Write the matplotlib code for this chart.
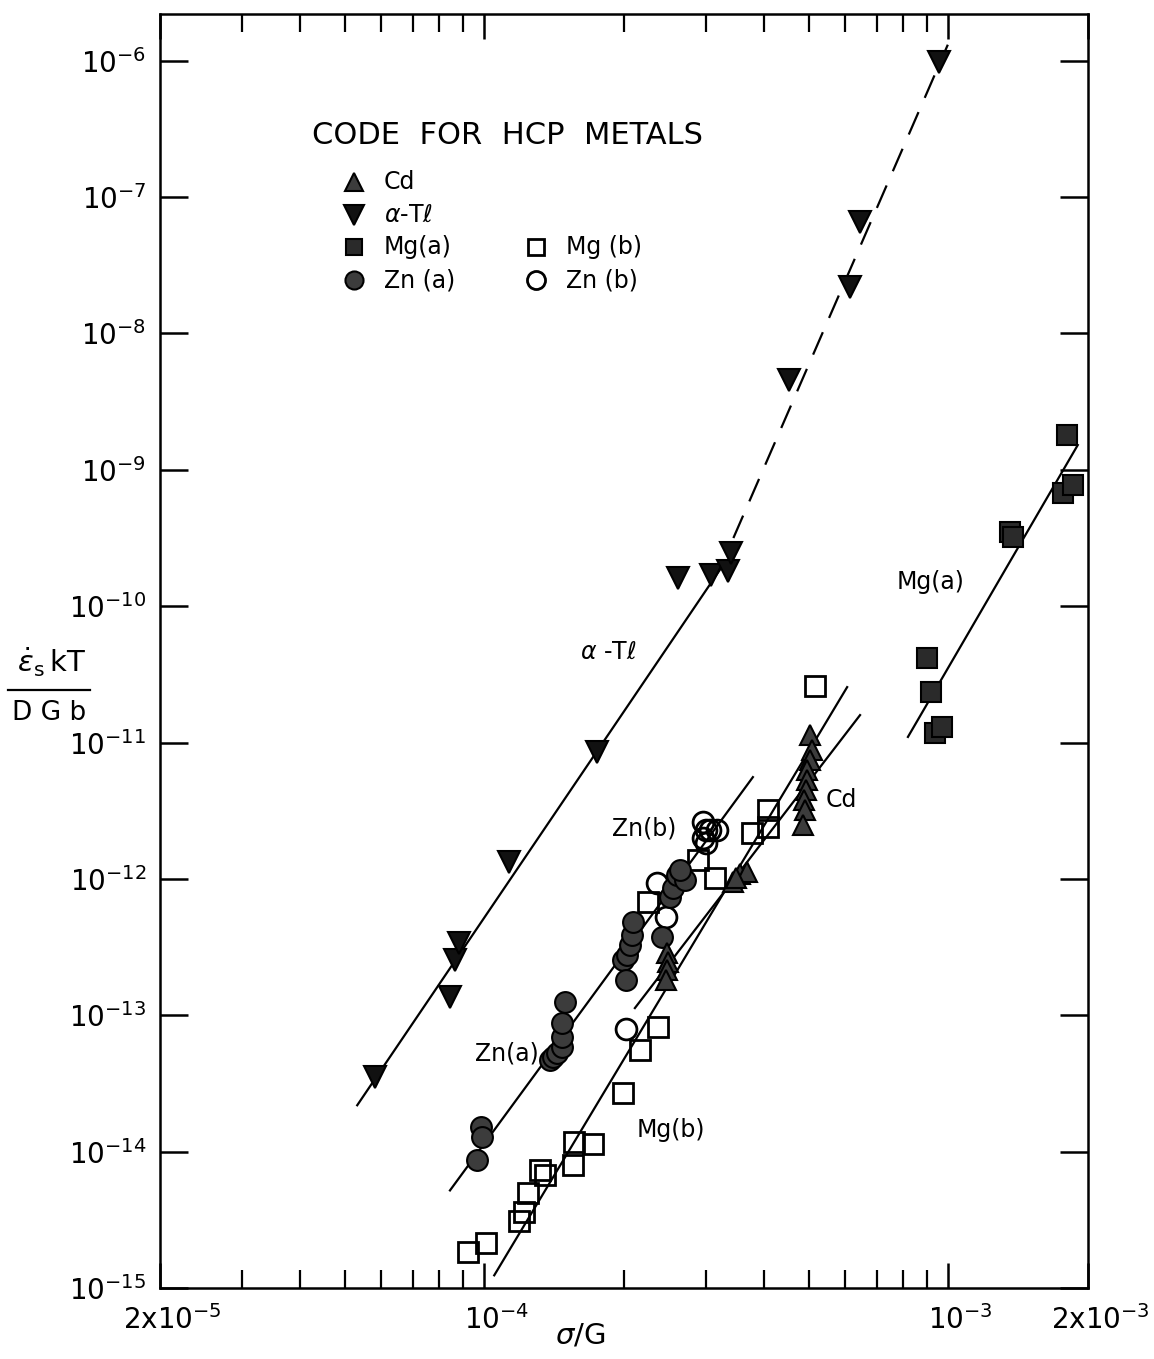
import matplotlib
matplotlib.use("Agg")
import matplotlib.pyplot as plt
from matplotlib.lines import Line2D
from matplotlib.transforms import ScaledTranslation
from matplotlib.ticker import FixedLocator, LogLocator, NullFormatter, NullLocator

plt.rcParams['font.family'] = 'DejaVu Sans'
plt.rcParams['mathtext.fontset'] = 'dejavusans'

# alpha-Tl (filled down triangles)
tl_x = [5.8e-5, 8.43e-5, 8.65e-5, 8.82e-5, 1.13e-4, 1.75e-4, 2.61e-4, 3.08e-4,
        3.35e-4, 3.4e-4, 4.54e-4, 6.14e-4, 6.45e-4, 9.55e-4]
tl_y = [3.5e-14, 1.36e-13, 2.54e-13, 3.38e-13, 1.33e-12, 8.5e-12, 1.6e-10, 1.7e-10,
        1.8e-10, 2.45e-10, 4.57e-9, 2.2e-8, 6.6e-8, 9.7e-7]

# Mg(a) (filled squares)
mga_x = [9.0e-4, 9.18e-4, 9.35e-4, 9.7e-4, 1.36e-3, 1.38e-3, 1.77e-3, 1.86e-3, 1.8e-3]
mga_y = [4.17e-11, 2.36e-11, 1.17e-11, 1.3e-11, 3.5e-10, 3.2e-10, 6.8e-10, 7.8e-10, 1.8e-9]

# Mg(b) (open squares)
mgb_x = [9.2e-5, 1.01e-4, 1.19e-4, 1.22e-4, 1.24e-4, 1.32e-4, 1.35e-4, 1.55e-4, 1.56e-4,
         1.71e-4, 1.99e-4, 2.16e-4, 2.37e-4, 2.25e-4, 2.89e-4, 3.14e-4, 3.77e-4, 4.08e-4,
         4.08e-4, 5.16e-4]
mgb_y = [1.83e-15, 2.13e-15, 3.09e-15, 3.59e-15, 4.95e-15, 7.3e-15, 6.7e-15, 7.95e-15,
         1.17e-14, 1.13e-14, 2.68e-14, 5.54e-14, 8.2e-14, 6.76e-13, 1.37e-12, 1.01e-12,
         2.17e-12, 2.4e-12, 3.2e-12, 2.6e-11]

# Zn(a) (filled circles)
zna_x = [9.64e-5, 9.84e-5, 9.89e-5, 1.385e-4, 1.406e-4, 1.435e-4, 1.47e-4, 1.47e-4,
         1.47e-4, 1.49e-4, 1.99e-4, 2.03e-4, 2.06e-4, 2.08e-4, 2.09e-4, 2.02e-4,
         2.42e-4, 2.51e-4, 2.55e-4, 2.60e-4, 2.71e-4, 2.64e-4]
zna_y = [8.65e-15, 1.51e-14, 1.28e-14, 4.68e-14, 4.93e-14, 5.27e-14, 5.83e-14, 6.9e-14,
         8.75e-14, 1.25e-13, 2.54e-13, 2.76e-13, 3.27e-13, 3.87e-13, 4.82e-13, 1.81e-13,
         3.74e-13, 7.35e-13, 8.55e-13, 1.07e-12, 9.8e-13, 1.16e-12]

# Zn(b) (open circles)
znb_x = [2.96e-4, 3.01e-4, 3.06e-4, 3.17e-4, 2.96e-4, 3.01e-4, 2.35e-4, 2.46e-4, 2.02e-4]
znb_y = [2.61e-12, 2.28e-12, 2.28e-12, 2.28e-12, 2.0e-12, 1.83e-12, 9.3e-13, 5.25e-13, 8.0e-14]

# Cd (filled up triangles)
cd_x = [5.04e-4, 5.08e-4, 5.04e-4, 4.95e-4, 4.95e-4, 4.93e-4, 4.89e-4, 4.91e-4, 4.87e-4,
        3.44e-4, 3.56e-4, 3.68e-4, 3.48e-4, 2.48e-4, 2.49e-4, 2.48e-4, 2.46e-4]
cd_y = [1.14e-11, 8.8e-12, 7.44e-12, 6.29e-12, 5.31e-12, 4.48e-12, 3.79e-12, 3.2e-12,
        2.48e-12, 9.5e-13, 1.08e-12, 1.12e-12, 1.01e-12, 2.86e-13, 2.45e-13, 2.14e-13, 1.81e-13]

# fitted lines (end points)
tl_fit_x, tl_fit_y = [5.32e-5, 3.3e-4], [2.19e-14, 2.1e-10]
tl_dash_x, tl_dash_y = [3.44e-4, 9.97e-4], [3.16e-10, 1.31e-6]
zna_fit_x, zna_fit_y = [8.43e-5, 3.79e-4], [5.2e-15, 5.58e-12]
mgb_fit_x, mgb_fit_y = [1.05e-4, 6.05e-4], [1.24e-15, 2.55e-11]
cd_fit_x, cd_fit_y = [2.11e-4, 6.45e-4], [1.13e-13, 1.59e-11]
mga_fit_x, mga_fit_y = [8.18e-4, 1.9e-3], [1.1e-11, 1.52e-9]

y_decades = [-15, -14, -13, -12, -11, -10, -9, -8, -7, -6]
x_ticks = [2e-5, 1e-4, 1e-3, 2e-3]
x_ticklabels = [r'$2\mathrm{x}10^{-5}$', r'$10^{-4}$', r'$10^{-3}$', r'$2\mathrm{x}10^{-3}$']

fig = plt.figure(figsize=(11.54, 13.59), dpi=100)
ax = fig.add_axes([0.1387, 0.0522, 0.8042, 0.9375])
ax.set_xscale('log')
ax.set_yscale('log')

lw = 1.6
ax.plot(tl_fit_x, tl_fit_y, color='black', lw=lw)
ax.plot(tl_dash_x, tl_dash_y, color='black', lw=lw, linestyle=(0, (11, 7)))
ax.plot(zna_fit_x, zna_fit_y, color='black', lw=lw)
ax.plot(mgb_fit_x, mgb_fit_y, color='black', lw=lw)
ax.plot(cd_fit_x, cd_fit_y, color='black', lw=lw)
ax.plot(mga_fit_x, mga_fit_y, color='black', lw=lw)

styles = {
    'cd': dict(marker='^', ms=15, mfc='#3c3c3c', mec='black', mew=1.5),
    'tl': dict(marker='v', ms=16, mfc='#111111', mec='black', mew=1.5),
    'mga': dict(marker='s', ms=14, mfc='#2a2a2a', mec='black', mew=1.5),
    'mgb': dict(marker='s', ms=14, mfc='none', mec='black', mew=2.0),
    'zna': dict(marker='o', ms=15, mfc='#3c3c3c', mec='black', mew=1.5),
    'znb': dict(marker='o', ms=15, mfc='none', mec='black', mew=2.0),
}

ax.plot(mgb_x, mgb_y, ls='none', **styles['mgb'])
ax.plot(znb_x, znb_y, ls='none', **styles['znb'])
ax.plot(zna_x, zna_y, ls='none', **styles['zna'])
ax.plot(cd_x, cd_y, ls='none', **styles['cd'])
ax.plot(mga_x, mga_y, ls='none', **styles['mga'])
ax.plot(tl_x, tl_y, ls='none', **styles['tl'])

ax.set_xlim(2e-5, 2e-3)
ax.set_ylim(1e-15, 2.2e-6)

# ticks
ax.xaxis.set_major_locator(FixedLocator(x_ticks))
ax.set_xticklabels(x_ticklabels)
ax.xaxis.set_minor_locator(LogLocator(base=10, subs=[2, 3, 4, 5, 6, 7, 8, 9], numticks=20))
ax.xaxis.set_minor_formatter(NullFormatter())
ax.yaxis.set_major_locator(FixedLocator([10.0 ** k for k in y_decades]))
ax.set_yticklabels([r'$10^{%d}$' % k for k in y_decades])
ax.yaxis.set_minor_locator(NullLocator())

ax.tick_params(axis='x', which='major', direction='in', length=18, width=1.8,
               top=True, labelsize=20, pad=12)
ax.tick_params(axis='x', which='minor', direction='in', length=13, width=1.6, top=True)
ax.tick_params(axis='y', which='major', direction='in', length=20, width=1.8,
               right=True, labelsize=20, pad=10)
for s in ax.spines.values():
    s.set_linewidth(1.8)

# nudge x tick labels a little to the right, as in the original
shift = ScaledTranslation(0.12, 0, fig.dpi_scale_trans)
for lab in ax.get_xticklabels():
    lab.set_transform(lab.get_transform() + shift)

# legend block
ax.text(0.164, 0.905, 'CODE  FOR  HCP  METALS', transform=ax.transAxes, fontsize=22,
        va='center', ha='left')
legend_rows = [
    (0.209, 0.868, 'cd', 'Cd'),
    (0.209, 0.842, 'tl', r'$\alpha$-T$\ell$'),
    (0.209, 0.817, 'mga', 'Mg(a)'),
    (0.405, 0.817, 'mgb', 'Mg (b)'),
    (0.209, 0.791, 'zna', 'Zn (a)'),
    (0.405, 0.791, 'znb', 'Zn (b)'),
]
for lx, ly, key, lab in legend_rows:
    st = dict(styles[key])
    st['ms'] = st['ms'] - 2
    ax.plot([lx], [ly], transform=ax.transAxes, ls='none', clip_on=False, **st)
    ax.text(lx + 0.032, ly, lab, transform=ax.transAxes, fontsize=17, va='center', ha='left')

# curve labels
lab_kw = dict(fontsize=17, va='center', ha='left')
ax.text(1.61e-4, 4.6e-11, r'$\alpha$ -T$\ell$', **lab_kw)
ax.text(7.74e-4, 1.5e-10, 'Mg(a)', **lab_kw)
ax.text(5.45e-4, 3.79e-12, 'Cd', **lab_kw)
ax.text(1.88e-4, 2.36e-12, 'Zn(b)', **lab_kw)
ax.text(9.55e-5, 5.27e-14, 'Zn(a)', **lab_kw)
ax.text(2.13e-4, 1.44e-14, 'Mg(b)', **lab_kw)

# axis labels
fig.text(0.503, 0.017, r'$\sigma$/G', fontsize=21, ha='center', va='center')
fig.text(0.045, 0.513, r'$\dot{\varepsilon}_{\mathrm{s}}\,\mathrm{kT}$', fontsize=21,
         ha='center', va='center')
fig.text(0.043, 0.475, 'D G b', fontsize=19, ha='center', va='center')
fig.add_artist(Line2D([0.007, 0.078], [0.4925, 0.4925], transform=fig.transFigure,
                      color='black', lw=1.6))

fig.savefig('out.png', dpi=100, facecolor='white')
